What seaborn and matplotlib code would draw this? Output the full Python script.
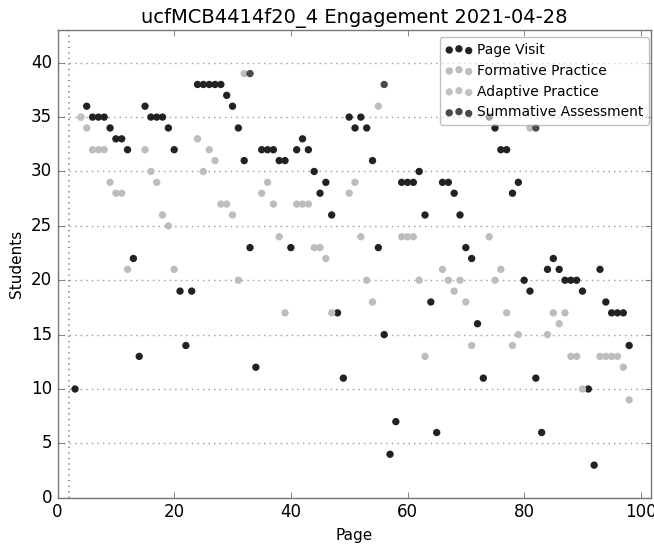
import pandas as pd
import numpy as np
import matplotlib.pyplot as plt
import seaborn as sns

# page -> number of students
visit_pages = [3, 5, 6, 7, 8, 9, 10, 11, 12, 13, 14, 15, 16, 17, 18, 19, 20, 21, 22, 23,
               24, 25, 26, 27, 28, 29, 30, 31, 32, 33, 34, 35, 36, 37, 38, 39, 40, 41, 42, 43,
               44, 45, 46, 47, 48, 49, 50, 51, 52, 53, 54, 55, 56, 57, 58, 59, 60, 61, 62, 63,
               64, 65, 66, 67, 68, 69, 70, 71, 72, 73, 74, 75, 76, 77, 78, 79, 80, 81, 82, 83,
               84, 85, 86, 87, 88, 89, 90, 91, 92, 93, 94, 95, 96, 97, 98]
visit_students = [10, 36, 35, 35, 35, 34, 33, 33, 32, 22, 13, 36, 35, 35, 35, 34, 32, 19, 14, 19,
                  38, 38, 38, 38, 38, 37, 36, 34, 31, 23, 12, 32, 32, 32, 31, 31, 23, 32, 33, 32,
                  30, 28, 29, 26, 17, 11, 35, 34, 35, 34, 31, 23, 15, 4, 7, 29, 29, 29, 30, 26,
                  18, 6, 29, 29, 28, 26, 23, 22, 16, 11, 35, 34, 32, 32, 28, 29, 20, 19, 11, 6,
                  21, 22, 21, 20, 20, 20, 19, 10, 3, 21, 18, 17, 17, 17, 14]

formative_pages = [4, 5, 6, 7, 8, 9, 10, 11, 12, 15, 16, 17, 18, 19, 20, 24, 25, 26, 27, 28,
                   29, 30, 31, 32, 35, 36, 37, 38, 39, 41, 42, 43, 44, 45, 46, 47, 50, 51, 52, 53,
                   54, 55, 59, 60, 61, 62, 63, 66, 67, 68, 69, 70, 71, 74, 75, 76, 77, 78, 79, 81,
                   84, 85, 86, 87, 88, 89, 90, 93, 94, 95, 96, 97, 98]
formative_students = [35, 34, 32, 32, 32, 29, 28, 28, 21, 32, 30, 29, 26, 25, 21, 33, 30, 32, 31, 27,
                      27, 26, 20, 39, 28, 29, 27, 24, 17, 27, 27, 27, 23, 23, 22, 17, 28, 29, 24, 20,
                      18, 36, 24, 24, 24, 20, 13, 21, 20, 19, 20, 18, 14, 24, 20, 21, 17, 14, 15, 34,
                      15, 17, 16, 17, 13, 13, 10, 13, 13, 13, 13, 12, 9]

adaptive_pages = [4]
adaptive_students = [35]

summative_pages = [33, 56, 82]
summative_students = [39, 38, 34]

series = [
    ("Page Visit", visit_pages, visit_students, "#222222"),
    ("Formative Practice", formative_pages, formative_students, "#bdbdbd"),
    ("Adaptive Practice", adaptive_pages, adaptive_students, "#c2c2c2"),
    ("Summative Assessment", summative_pages, summative_students, "#4a4a4a"),
]

plt.style.use("classic")
plt.rcParams["figure.facecolor"] = "white"
plt.rcParams["font.family"] = ["DejaVu Sans"]

fig, ax = plt.subplots(figsize=(6.54, 5.47), dpi=100)
fig.subplots_adjust(left=0.088, right=0.995, top=0.945, bottom=0.09)

for name, pages, students, color in series:
    df = pd.DataFrame({"Page": pages, "Students": students})
    sns.scatterplot(data=df, x="Page", y="Students", color=color, s=28,
                    edgecolor="none", label=name, ax=ax, zorder=3)

ax.axvline(2, color="#888888", linestyle=":", linewidth=1.2)
ax.yaxis.grid(True, linestyle=":", color="#999999", linewidth=1)
ax.set_axisbelow(True)
ax.set_xlim(0, 101.7)
ax.set_ylim(0, 43)
ax.set_xticks([0, 20, 40, 60, 80, 100])
for sp in ax.spines.values():
    sp.set_color("#777777")
ax.tick_params(colors="#555555", labelcolor="black", labelsize=12)

ax.set_title("ucfMCB4414f20_4 Engagement 2021-04-28", fontsize=14)
ax.set_xlabel("Page", fontsize=11)
ax.set_ylabel("Students", fontsize=11)

leg = ax.legend(loc="upper right", bbox_to_anchor=(0.997, 0.985), borderaxespad=0,
                fontsize=10, scatterpoints=3, fancybox=True, framealpha=0.6,
                handletextpad=0.3, labelspacing=0.5)
leg.get_frame().set_edgecolor("#999999")
leg.set_zorder(5)

fig.savefig("out.png", dpi=100, facecolor="white")
